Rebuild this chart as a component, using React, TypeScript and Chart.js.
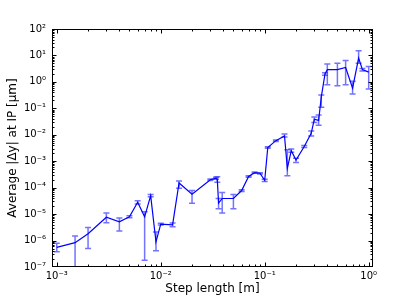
import React, { useEffect, useRef } from 'react';
import { Chart, registerables } from 'chart.js';

Chart.register(...registerables);

// Step length [m]
const stepLength = [
  0.001, 0.0015, 0.002, 0.003, 0.004, 0.005, 0.006, 0.007, 0.008, 0.009,
  0.01, 0.013, 0.015, 0.02, 0.03, 0.034, 0.035, 0.036, 0.039, 0.05,
  0.06, 0.07, 0.08, 0.09, 0.1, 0.107, 0.128, 0.155, 0.165, 0.18,
  0.2, 0.24, 0.28, 0.3, 0.33, 0.35, 0.38, 0.4, 0.5, 0.6,
  0.7, 0.8, 0.87, 1.0,
];
// Average |Δy| at IP [μm]
const avgDy = [
  5.5e-7, 8.3e-7, 1.8e-6, 7.6e-6, 5.1e-6, 7.9e-6, 2.8e-5, 7.9e-6, 5e-5, 8.9e-7,
  4.2e-6, 3.9e-6, 1.5e-4, 5.6e-5, 2.0e-4, 2.3e-4, 2.0e-4, 2.6e-5, 3.9e-5, 3.9e-5,
  7.8e-5, 2.65e-4, 3.7e-4, 3.5e-4, 1.9e-4, 3.3e-3, 6e-3, 9e-3, 5.4e-4, 2.5e-3,
  1.1e-3, 3.6e-3, 1.14e-2, 3.9e-2, 3.5e-2, 0.27, 2.0, 2.9, 2.9, 3.5,
  0.58, 7.9, 2.9, 2.35,
];
// lower end of error bar
const errLow = [
  3.8e-7, 5e-8, 5e-7, 4.7e-6, 2.3e-6, 7.3e-6, 2.4e-5, 1.8e-7, 4.5e-5, 4.1e-7,
  3.9e-6, 3.3e-6, 9.5e-5, 2.6e-5, 1.85e-4, 2.1e-4, 1.6e-4, 1.6e-5, 1.1e-5, 1.6e-5,
  7.2e-5, 2.5e-4, 3.5e-4, 3.3e-4, 1.7e-4, 3.1e-3, 5.6e-3, 8.2e-3, 2.8e-4, 2.2e-3,
  9e-4, 3.3e-3, 9e-3, 2.9e-2, 2.3e-2, 0.11, 1.8, 0.78, 0.72, 0.78,
  0.35, 5.1, 2.6, 0.54,
];
// upper end of error bar
const errHigh = [
  7.9e-7, 1.5e-6, 3.1e-6, 1.1e-5, 7.2e-6, 8.6e-6, 3.2e-5, 1.23e-5, 5.5e-5, 2.1e-6,
  4.5e-6, 4.6e-6, 1.8e-4, 7.8e-5, 2.15e-4, 2.5e-4, 2.6e-4, 3.9e-5, 6.5e-5, 5.5e-5,
  8.4e-5, 2.8e-4, 3.9e-4, 3.7e-4, 2.1e-4, 3.5e-3, 6.4e-3, 1.07e-2, 2.7e-3, 2.9e-3,
  1.3e-3, 3.9e-3, 1.4e-2, 4.7e-2, 5.6e-2, 0.32, 2.2, 4.7, 5.1, 6.5,
  1.05, 15, 3.2, 3.8,
];

const xMin = 9e-4;
const xMax = 1.1;
const yMin = 1e-7;
const yMax = 1e2;
const xExponents = [-3, -2, -1, 0];
const yExponents = [-7, -6, -5, -4, -3, -2, -1, 0, 1, 2];

const SUP: Record<string, string> = {
  '-': '⁻', '0': '⁰', '1': '¹', '2': '²', '3': '³', '4': '⁴',
  '5': '⁵', '6': '⁶', '7': '⁷', '8': '⁸', '9': '⁹',
};

function isPow10(v: number) {
  const l = Math.log10(v);
  return Math.abs(l - Math.round(l)) < 1e-9;
}

function powLabel(v: number) {
  if (!isPow10(v)) return '';
  const e = String(Math.round(Math.log10(v)));
  return '10' + e.split('').map((c) => SUP[c] || c).join('');
}

function logTicks(exps: number[], min: number, max: number) {
  const out: { value: number }[] = [];
  for (const e of exps) {
    for (let m = 1; m <= 9; m++) {
      const v = parseFloat((m * Math.pow(10, e)).toPrecision(6));
      if (v >= min * 0.9999 && v <= max * 1.0001) out.push({ value: v });
    }
  }
  return out;
}

const errorBarPlugin = {
  id: 'errorBars',
  beforeDatasetsDraw(chart: any) {
    const { ctx, chartArea: a, scales } = chart;
    const xs = scales.x;
    const ys = scales.y;
    ctx.save();
    ctx.beginPath();
    ctx.rect(a.left, a.top, a.right - a.left, a.bottom - a.top);
    ctx.clip();
    ctx.strokeStyle = 'rgba(40,40,255,0.65)';
    ctx.lineWidth = 1.5;
    for (let i = 0; i < stepLength.length; i++) {
      const px = xs.getPixelForValue(stepLength[i]);
      const yl = ys.getPixelForValue(errLow[i]);
      const yh = ys.getPixelForValue(errHigh[i]);
      ctx.beginPath();
      ctx.moveTo(px, yl);
      ctx.lineTo(px, yh);
      ctx.moveTo(px - 3, yl);
      ctx.lineTo(px + 3, yl);
      ctx.moveTo(px - 3, yh);
      ctx.lineTo(px + 3, yh);
      ctx.stroke();
    }
    ctx.restore();
  },
};

const framePlugin = {
  id: 'frame',
  afterDatasetsDraw(chart: any) {
    const { ctx, chartArea: a, scales } = chart;
    const xs = scales.x;
    const ys = scales.y;
    ctx.save();
    ctx.strokeStyle = '#000';
    ctx.lineWidth = 1;
    ctx.beginPath();
    const L = a.left + 0.5;
    const R = a.right - 0.5;
    const T = a.top + 0.5;
    const B = a.bottom - 0.5;
    for (const t of xs.ticks) {
      const p = Math.round(xs.getPixelForValue(t.value)) + 0.5;
      if (p < L || p > R) continue;
      const len = isPow10(t.value) ? 4 : 2;
      ctx.moveTo(p, B);
      ctx.lineTo(p, B - len);
      ctx.moveTo(p, T);
      ctx.lineTo(p, T + len);
    }
    for (const t of ys.ticks) {
      const p = Math.round(ys.getPixelForValue(t.value)) + 0.5;
      if (p < T - 0.1 || p > B + 0.1) continue;
      const len = isPow10(t.value) ? 4 : 2;
      ctx.moveTo(L, p);
      ctx.lineTo(L + len, p);
      ctx.moveTo(R, p);
      ctx.lineTo(R - len, p);
    }
    ctx.stroke();
    ctx.strokeRect(L, T, R - L, B - T);
    ctx.restore();
  },
};

export default function App() {
  const canvasRef = useRef<HTMLCanvasElement | null>(null);

  useEffect(() => {
    if (!canvasRef.current) return;
    Chart.defaults.font.family = "'DejaVu Sans', sans-serif";
    const chart = new Chart(canvasRef.current, {
      type: 'line',
      data: {
        datasets: [
          {
            data: stepLength.map((x, i) => ({ x, y: avgDy[i] })),
            borderColor: '#0000ff',
            borderWidth: 1.2,
            pointRadius: 0,
            fill: false,
            tension: 0,
          },
        ],
      },
      options: {
        animation: false,
        responsive: true,
        maintainAspectRatio: false,
        layout: { padding: { left: 0, right: 42, top: 29, bottom: 0 } },
        plugins: {
          legend: { display: false },
          tooltip: { enabled: false },
        },
        scales: {
          x: {
            type: 'logarithmic',
            min: xMin,
            max: xMax,
            grid: { display: false, drawTicks: false },
            border: { display: false },
            afterBuildTicks: (scale: any) => {
              scale.ticks = logTicks(xExponents, xMin, xMax);
            },
            afterFit: (scale: any) => {
              scale.height = 30;
            },
            ticks: {
              autoSkip: false,
              maxRotation: 0,
              padding: 3,
              color: '#000',
              font: { size: 10 },
              callback: (v: any) => powLabel(Number(v)),
            },
            title: {
              display: true,
              text: 'Step length [m]',
              color: '#000',
              font: { size: 12 },
              padding: { top: 0, bottom: 1 },
            },
          },
          y: {
            type: 'logarithmic',
            min: yMin,
            max: yMax,
            grid: { display: false, drawTicks: false },
            border: { display: false },
            afterBuildTicks: (scale: any) => {
              scale.ticks = logTicks(yExponents, yMin, yMax);
            },
            afterFit: (scale: any) => {
              scale.width = 52;
            },
            ticks: {
              autoSkip: false,
              padding: 6,
              color: '#000',
              font: { size: 10 },
              callback: (v: any) => powLabel(Number(v)),
            },
            title: {
              display: true,
              text: 'Average |Δy| at IP [μm]',
              color: '#000',
              font: { size: 12 },
              padding: { top: 6, bottom: 0 },
            },
          },
        },
      },
      plugins: [errorBarPlugin, framePlugin],
    } as any);
    return () => chart.destroy();
  }, []);

  return (
    <div style={{ position: 'fixed', left: 0, top: 0, width: 415, height: 297, background: '#fff' }}>
      <canvas ref={canvasRef} />
    </div>
  );
}
